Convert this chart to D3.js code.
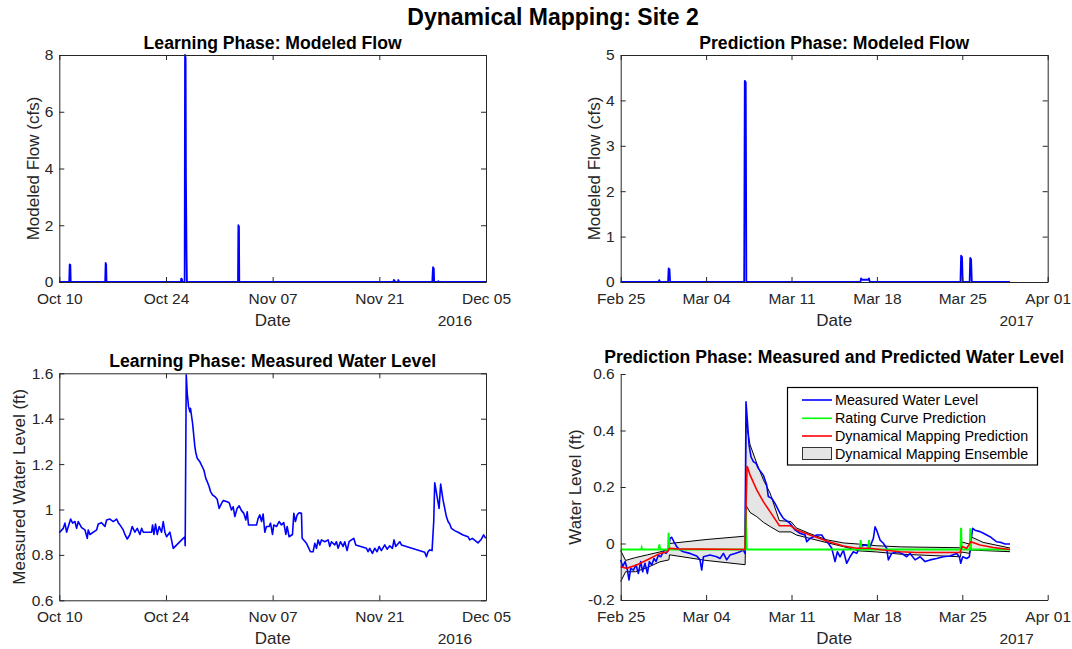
<!DOCTYPE html>
<html>
<head>
<meta charset="utf-8">
<script src="https://cdn.jsdelivr.net/npm/d3@7"></script>
<style>
  html, body { margin: 0; padding: 0; background: #fff; }
  svg { display: block; font-family: "Liberation Sans", Arial, Helvetica, sans-serif; }
</style>
</head>
<body>
<svg id="fig" width="1072" height="649"></svg>
<script>
// ---- Learning phase (days since 2016-10-10) ----
const learnStart = "2016-10-10";
const learnEnd = "2016-12-05";
const learnTicks = ["2016-10-10", "2016-10-24", "2016-11-07", "2016-11-21", "2016-12-05"];

const flowLearnDays = [0, 1.30, 1.36, 1.45, 1.50, 6.02, 6.08, 6.15, 6.20, 15.95, 16.00, 16.10, 16.15,
  16.45, 16.50, 16.58, 16.62, 16.70, 16.75, 23.45, 23.50, 23.58, 23.62, 43.85, 43.90, 44.00, 44.05,
  44.45, 44.50, 44.60, 48.95, 49.00, 49.05, 49.15, 49.20, 49.70, 49.75, 49.80, 56];
const flowLearnCfs = [0, 0, 0.62, 0.60, 0, 0, 0.67, 0.62, 0, 0, 0.12, 0.10, 0,
  0, 8.0, 7.9, 3.7, 1.0, 0, 0, 2.0, 1.95, 0, 0, 0.07, 0.05, 0,
  0, 0.07, 0, 0, 0.30, 0.52, 0.48, 0, 0, 0.03, 0, 0];
const flowLearnYTicks = [0, 2, 4, 6, 8];

const levelLearnDays = [0.00, 0.52, 0.74, 0.96, 1.18, 1.49, 1.75, 2.05, 2.27, 2.49, 2.93, 3.37, 3.67, 3.80,
  4.02, 4.90, 5.11, 5.55, 5.99, 6.21, 6.64, 7.08, 7.52, 7.74, 7.96, 8.39, 8.61, 8.92, 9.27, 9.57, 9.92,
  10.23, 10.58, 10.80, 11.02, 12.11, 12.24, 12.42, 12.63, 12.85, 13.11, 13.42, 13.64, 13.86, 14.08, 14.51,
  14.73, 14.95, 16.26, 16.48, 16.52, 16.66, 16.79, 16.96, 17.14, 17.22, 17.49, 17.79, 17.92, 18.10, 18.45,
  18.97, 19.23, 19.41, 19.67, 19.85, 20.11, 20.42, 20.72, 20.98, 21.29, 21.51, 21.95, 22.30, 22.60, 22.82,
  23.04, 23.34, 23.61, 23.91, 24.22, 24.48, 24.66, 24.83, 25.88, 26.10, 26.32, 26.54, 26.75, 26.97, 27.19,
  27.54, 27.72, 27.98, 28.15, 28.50, 28.85, 29.16, 29.46, 29.73, 29.90, 30.16, 30.60, 30.78, 30.99, 31.21,
  31.48, 31.78, 31.87, 32.44, 32.96, 33.31, 33.53, 33.75, 33.97, 34.19, 34.40, 34.84, 35.28, 35.50, 35.72,
  36.15, 36.37, 36.59, 36.90, 37.25, 37.46, 37.77, 38.03, 38.34, 38.64, 38.91, 40.31, 40.52, 40.74, 41.09,
  41.40, 41.71, 41.97, 42.27, 42.71, 43.02, 43.37, 43.72, 43.93, 44.15, 44.68, 44.90, 47.96, 48.18, 48.39,
  48.61, 48.92, 49.14, 49.27, 49.62, 49.84, 50.05, 50.36, 50.80, 51.02, 51.24, 51.45, 51.89, 52.33, 52.99,
  53.64, 53.86, 54.21, 54.95, 55.39, 55.69, 55.96];
const levelLearnFt = [0.898, 0.917, 0.940, 0.900, 0.925, 0.958, 0.940, 0.947, 0.917, 0.947, 0.920, 0.910, 0.873, 0.910,
  0.890, 0.910, 0.936, 0.942, 0.925, 0.954, 0.958, 0.947, 0.958, 0.942, 0.932, 0.910, 0.890, 0.870, 0.890, 0.925, 0.900,
  0.917, 0.890, 0.917, 0.900, 0.900, 0.932, 0.890, 0.936, 0.890, 0.925, 0.900, 0.947, 0.900, 0.880, 0.900,
  0.866, 0.829, 0.873, 0.880, 0.840, 1.593, 1.512, 1.453, 1.430, 1.446, 1.380, 1.277, 1.250, 1.226, 1.210,
  1.174, 1.137, 1.123, 1.100, 1.079, 1.064, 1.057, 1.045, 1.005, 1.027, 1.039, 1.035, 1.030, 0.998, 1.012,
  0.969, 1.005, 1.016, 0.995, 0.983, 0.954, 0.990, 0.932, 0.932, 0.961, 0.976, 0.947, 0.980, 0.900, 0.925,
  0.925, 0.940, 0.890, 0.932, 0.925, 0.947, 0.932, 0.942, 0.890, 0.925, 0.880, 0.890, 0.983, 0.947, 0.976,
  0.986, 0.983, 0.873, 0.851, 0.814, 0.814, 0.851, 0.829, 0.866, 0.844, 0.866, 0.858, 0.866, 0.837, 0.858,
  0.844, 0.858, 0.829, 0.858, 0.837, 0.858, 0.819, 0.858, 0.866, 0.873, 0.844, 0.829, 0.814, 0.829, 0.807,
  0.829, 0.814, 0.837, 0.819, 0.844, 0.825, 0.840, 0.829, 0.866, 0.837, 0.858, 0.844, 0.812, 0.792, 0.814,
  0.822, 0.819, 0.947, 1.118, 1.049, 1.005, 1.112, 1.042, 0.969, 0.947, 0.936, 0.917, 0.907, 0.900, 0.888,
  0.880, 0.866, 0.873, 0.853, 0.869, 0.888, 0.873];
const levelLearnYTicks = [0.6, 0.8, 1, 1.2, 1.4, 1.6];

// ---- Prediction phase (days since 2017-02-25) ----
const predStart = "2017-02-25";
const predEnd = "2017-04-01";
const predTicks = ["2017-02-25", "2017-03-04", "2017-03-11", "2017-03-18", "2017-03-25", "2017-04-01"];

const flowPredDays = [0, 3.10, 3.16, 3.22, 3.88, 3.93, 4.00, 4.05, 10.12, 10.17, 10.25, 10.30,
  19.65, 19.70, 19.80, 20.30, 20.35, 20.42, 27.85, 27.90, 27.98, 28.03, 28.60, 28.65, 28.72, 28.78, 31.9];
const flowPredCfs = [0, 0, 0.04, 0, 0, 0.30, 0.28, 0, 0, 4.43, 4.40, 0,
  0, 0.08, 0.05, 0.05, 0.08, 0, 0, 0.58, 0.55, 0, 0, 0.53, 0.50, 0, 0];
const flowPredYTicks = [0, 1, 2, 3, 4, 5];

const measuredDays = [0, 0.16, 0.36, 0.55, 0.68, 0.82, 1.04, 1.26, 1.45, 1.64, 1.80, 1.99, 2.19, 2.35, 2.54,
  2.73, 2.90, 3.09, 3.28, 3.50, 3.72, 3.91, 4.04, 4.18, 4.37, 4.59, 4.86, 5.14, 5.68, 6.23, 6.50, 6.64, 6.78,
  7.32, 7.87, 8.14, 8.42, 8.69, 8.96, 9.37, 9.78, 10.05, 10.19, 10.27, 10.38, 10.52, 10.68, 10.87, 11.09,
  11.28, 11.69, 11.97, 12.10, 12.38, 12.65, 13.06, 13.33, 13.88, 14.29, 14.70, 15.11, 15.25, 15.52, 15.79,
  16.07, 16.48, 16.75, 17.02, 17.30, 17.57, 17.76, 17.98, 18.25, 18.52, 18.80, 19.07, 19.34, 19.62, 20.03,
  20.44, 20.71, 20.85, 20.98, 21.26, 21.53, 21.80, 21.94, 22.21, 22.62, 23.03, 23.44, 23.72, 24.13, 24.54,
  24.95, 25.36, 25.90, 26.45, 26.99, 27.54, 27.76, 27.87, 28.03, 28.36, 28.58, 28.69, 28.85, 29.04, 29.45,
  29.73, 30.27, 30.82, 31.23, 31.50, 31.91];
const measuredFt = [-0.058, -0.082, -0.064, -0.094, -0.129, -0.088, -0.094, -0.076, -0.106, -0.064, -0.100, -0.070, -0.106, -0.064, -0.076,
  -0.053, -0.064, -0.041, -0.047, -0.029, -0.035, -0.023, 0.018, 0.022, 0.006, -0.011, -0.023, -0.029, -0.035, -0.044, -0.058, -0.094, -0.047,
  -0.041, -0.047, -0.053, -0.035, -0.058, -0.041, -0.035, -0.029, -0.023, -0.035, 0.502, 0.437, 0.349, 0.307, 0.290, 0.284,
  0.266, 0.242, 0.207, 0.166, 0.160, 0.142, 0.107, 0.089, 0.071, 0.048, 0.036, 0.030, 0.006, 0.018, 0.024,
  0.030, 0.030, 0.012, 0.001, -0.017, -0.064, -0.029, -0.047, -0.023, -0.070, -0.047, -0.029, -0.035, -0.011, -0.005,
  -0.011, 0.018, 0.059, 0.047, 0.012, 0.001, -0.017, -0.058, -0.035, -0.029, -0.035, -0.047, -0.035, -0.058, -0.047,
  -0.064, -0.058, -0.053, -0.047, -0.044, -0.035, -0.047, -0.070, -0.047, -0.053, -0.047, 0.001, 0.054, 0.047, 0.042,
  0.036, 0.024, 0.006, 0.003, -0.002, -0.002];

const ratingDays = [0, 1.68, 1.72, 1.76, 3.12, 3.17, 3.22, 3.88, 3.93, 3.98, 10.22, 10.27, 10.32,
  19.62, 19.67, 19.72, 20.30, 20.35, 20.40, 27.85, 27.90, 27.95, 28.61, 28.66, 28.71, 31.91];
const ratingFt = [-0.021, -0.021, -0.015, -0.021, -0.021, -0.003, -0.021, -0.021, 0.038, -0.021, -0.021, 0.120, -0.021,
  -0.021, 0.012, -0.021, -0.021, 0.012, -0.021, -0.021, 0.056, -0.021, -0.021, 0.054, -0.021, -0.021];

const dynDays = [0, 0.49, 1.31, 2.40, 3.22, 3.83, 3.99, 4.59, 10.19, 10.27, 10.36, 10.60, 11.15, 11.69, 12.24,
  13.01, 13.90, 14.43, 15.52, 16.89, 18.25, 19.34, 20.44, 21.53, 22.90, 24.26, 25.63, 27.81, 27.98, 28.36,
  28.69, 29.45, 30.55, 31.91];
const dynFt = [-0.082, -0.088, -0.076, -0.053, -0.035, -0.029, -0.017, -0.019, -0.021, 0.125, 0.274, 0.243, 0.190, 0.148, 0.113,
  0.063, 0.063, 0.048, 0.030, 0.009, -0.009, -0.017, -0.017, -0.023, -0.029, -0.032, -0.032, -0.032, -0.011, -0.017,
  0.006, -0.005, -0.014, -0.021];

const ensDays = [0, 0.4, 1.2, 2.2, 3.2, 3.95, 4.0, 7.0, 10.2, 10.27, 10.6, 11.15, 11.7, 12.25, 13.0, 13.95,
  14.4, 15.5, 16.9, 18.25, 19.5, 21.0, 23.0, 27.85, 27.9, 28.6, 28.7, 29.7, 31.91];
const ensUpperFt = [-0.025, -0.060, -0.050, -0.040, -0.030, -0.020, 0.000, 0.014, 0.026, 0.430, 0.350, 0.284, 0.225, 0.178, 0.081, 0.078,
  0.055, 0.035, 0.013, 0.002, -0.002, -0.008, -0.012, -0.015, 0.006, -0.002, 0.024, 0.004, -0.016];
const ensLowerFt = [-0.135, -0.100, -0.100, -0.085, -0.065, -0.058, -0.040, -0.060, -0.075, 0.135, 0.110, 0.095, 0.075, 0.060, 0.041, 0.041,
  0.030, 0.018, 0.003, -0.011, -0.026, -0.030, -0.038, -0.047, -0.030, -0.035, -0.023, -0.025, -0.029];
const levelPredYTicks = [-0.2, 0, 0.2, 0.4, 0.6];

const legendLabels = ["Measured Water Level", "Rating Curve Prediction",
  "Dynamical Mapping Prediction", "Dynamical Mapping Ensemble"];

// ---- helpers ----
const DAY = 864e5;
const parse = s => new Date(s + "T00:00:00Z");
const atDay = (start, d) => new Date(parse(start).getTime() + d * DAY);
const fmtDate = d3.utcFormat("%b %d");
const fmtNum = v => String(+v.toFixed(1));
const AXIS = "#262626";

const svg = d3.select("#fig");

svg.append("text")
  .attr("x", 553).attr("y", 25)
  .attr("text-anchor", "middle")
  .attr("font-size", 23).attr("font-weight", "bold").attr("fill", "#000")
  .text("Dynamical Mapping: Site 2");

function styleAxis(g) {
  g.attr("font-family", null).attr("font-size", null);
  g.selectAll("path, line").attr("stroke", AXIS).attr("stroke-width", 1);
  g.selectAll("text").attr("fill", AXIS).attr("font-size", "15.5px");
}

function makePanel(o) {
  const x = d3.scaleUtc().domain([parse(o.start), parse(o.end)]).range([o.x0, o.x1]);
  const y = d3.scaleLinear().domain([o.yTicks[0], o.yTicks[o.yTicks.length - 1]]).range([o.y1, o.y0]);
  const xt = o.xTicks.map(parse);

  const g = svg.append("g");

  // title
  g.append("text")
    .attr("x", (o.x0 + o.x1) / 2).attr("y", o.y0 - o.titleGap)
    .attr("text-anchor", "middle")
    .attr("font-size", 17.6).attr("font-weight", "bold").attr("fill", "#000")
    .text(o.title);

  const plot = g.append("g");

  // axes (ticks point inward)
  g.append("g").attr("transform", `translate(0,${o.y1})`)
    .call(d3.axisBottom(x).tickValues(xt).tickFormat(fmtDate)
      .tickSizeInner(-5).tickSizeOuter(0).tickPadding(11))
    .call(styleAxis);
  g.append("g").attr("transform", `translate(${o.x0},0)`)
    .call(d3.axisLeft(y).tickValues(o.yTicks).tickFormat(fmtNum)
      .tickSizeInner(-5).tickSizeOuter(0).tickPadding(6))
    .call(styleAxis);
  if (o.box) {
    g.append("g").attr("transform", `translate(0,${o.y0})`)
      .call(d3.axisTop(x).tickValues(xt).tickFormat("").tickSizeInner(-5).tickSizeOuter(0))
      .call(styleAxis);
    g.append("g").attr("transform", `translate(${o.x1},0)`)
      .call(d3.axisRight(y).tickValues(o.yTicks).tickFormat("").tickSizeInner(-5).tickSizeOuter(0))
      .call(styleAxis);
  }

  // axis labels
  g.append("text")
    .attr("x", (o.x0 + o.x1) / 2).attr("y", o.y1 + 43.5)
    .attr("text-anchor", "middle").attr("font-size", 17).attr("fill", AXIS)
    .text("Date");
  g.append("text")
    .attr("x", o.x1 - 31).attr("y", o.y1 + 43.5)
    .attr("text-anchor", "middle").attr("font-size", 15.5).attr("fill", AXIS)
    .text(o.year);
  g.append("text")
    .attr("transform", `translate(${o.ylabX},${(o.y0 + o.y1) / 2}) rotate(-90)`)
    .attr("text-anchor", "middle").attr("font-size", 17).attr("fill", AXIS)
    .text(o.ylabel);

  return { x, y, plot };
}

function series(start, days, vals) {
  return days.map((d, i) => ({ t: atDay(start, d), v: vals[i] }));
}

// ---- Top-left: learning phase modeled flow ----
{
  const p = makePanel({ x0: 59.3, x1: 486, y0: 55, y1: 282, start: learnStart, end: learnEnd,
    xTicks: learnTicks, yTicks: flowLearnYTicks, box: true, year: "2016", titleGap: 6,
    title: "Learning Phase: Modeled Flow", ylabel: "Modeled Flow (cfs)", ylabX: 38.5 });
  const line = d3.line().x(d => p.x(d.t)).y(d => p.y(d.v));
  p.plot.append("path").datum(series(learnStart, flowLearnDays, flowLearnCfs))
    .attr("d", line).attr("fill", "none").attr("stroke", "#0000ff").attr("stroke-width", 1.8)
    .attr("stroke-linejoin", "round");
}

// ---- Top-right: prediction phase modeled flow ----
{
  const p = makePanel({ x0: 620.7, x1: 1047.7, y0: 55, y1: 282, start: predStart, end: predEnd,
    xTicks: predTicks, yTicks: flowPredYTicks, box: true, year: "2017", titleGap: 6,
    title: "Prediction Phase: Modeled Flow", ylabel: "Modeled Flow (cfs)", ylabX: 599.5 });
  const line = d3.line().x(d => p.x(d.t)).y(d => p.y(d.v));
  p.plot.append("path").datum(series(predStart, flowPredDays, flowPredCfs))
    .attr("d", line).attr("fill", "none").attr("stroke", "#0000ff").attr("stroke-width", 1.8)
    .attr("stroke-linejoin", "round");
}

// ---- Bottom-left: learning phase measured water level ----
{
  const p = makePanel({ x0: 59.3, x1: 486, y0: 373.3, y1: 600.3, start: learnStart, end: learnEnd,
    xTicks: learnTicks, yTicks: levelLearnYTicks, box: true, year: "2016", titleGap: 6,
    title: "Learning Phase: Measured Water Level", ylabel: "Measured Water Level (ft)", ylabX: 25 });
  const line = d3.line().x(d => p.x(d.t)).y(d => p.y(d.v));
  p.plot.append("path").datum(series(learnStart, levelLearnDays, levelLearnFt))
    .attr("d", line).attr("fill", "none").attr("stroke", "#0000ff").attr("stroke-width", 1.6)
    .attr("stroke-linejoin", "round");
}

// ---- Bottom-right: prediction phase measured vs predicted ----
{
  const p = makePanel({ x0: 620.7, x1: 1047.7, y0: 374, y1: 600, start: predStart, end: predEnd,
    xTicks: predTicks, yTicks: levelPredYTicks, box: false, year: "2017", titleGap: 11,
    title: "Prediction Phase: Measured and Predicted Water Level", ylabel: "Water Level (ft)", ylabX: 580.5 });
  const line = d3.line().x(d => p.x(d.t)).y(d => p.y(d.v));

  const band = ensDays.map((d, i) => ({ t: atDay(predStart, d), lo: ensLowerFt[i], hi: ensUpperFt[i] }));
  p.plot.append("path").datum(band)
    .attr("d", d3.area().x(d => p.x(d.t)).y0(d => p.y(d.lo)).y1(d => p.y(d.hi)))
    .attr("fill", "#e5e5e5").attr("stroke", "none");
  p.plot.append("path").datum(series(predStart, ensDays, ensUpperFt))
    .attr("d", line).attr("fill", "none").attr("stroke", "#000").attr("stroke-width", 1);
  p.plot.append("path").datum(series(predStart, ensDays, ensLowerFt))
    .attr("d", line).attr("fill", "none").attr("stroke", "#000").attr("stroke-width", 1);

  p.plot.append("path").datum(series(predStart, measuredDays, measuredFt))
    .attr("d", line).attr("fill", "none").attr("stroke", "#0000ff").attr("stroke-width", 1.6)
    .attr("stroke-linejoin", "round");
  p.plot.append("path").datum(series(predStart, ratingDays, ratingFt))
    .attr("d", line).attr("fill", "none").attr("stroke", "#00ff00").attr("stroke-width", 2);
  p.plot.append("path").datum(series(predStart, dynDays, dynFt))
    .attr("d", line).attr("fill", "none").attr("stroke", "#ff0000").attr("stroke-width", 1.6);

  // legend
  const lg = svg.append("g");
  lg.append("rect").attr("x", 787.5).attr("y", 387.5).attr("width", 250).attr("height", 77.5)
    .attr("fill", "#fff").attr("stroke", "#000").attr("stroke-width", 1.2);
  const colors = ["#0000ff", "#00ff00", "#ff0000", null];
  const rowY = [400, 418.3, 436, 454];
  legendLabels.forEach((lab, i) => {
    if (colors[i]) {
      lg.append("line").attr("x1", 802).attr("x2", 832).attr("y1", rowY[i]).attr("y2", rowY[i])
        .attr("stroke", colors[i]).attr("stroke-width", 1.6);
    } else {
      lg.append("rect").attr("x", 802.5).attr("y", rowY[i] - 6.5).attr("width", 29).attr("height", 12)
        .attr("fill", "#e5e5e5").attr("stroke", "#333").attr("stroke-width", 1);
    }
    lg.append("text").attr("x", 835).attr("y", rowY[i] + 5)
      .attr("font-size", 14.3).attr("fill", "#000").text(lab);
  });
}
</script>
</body>
</html>
